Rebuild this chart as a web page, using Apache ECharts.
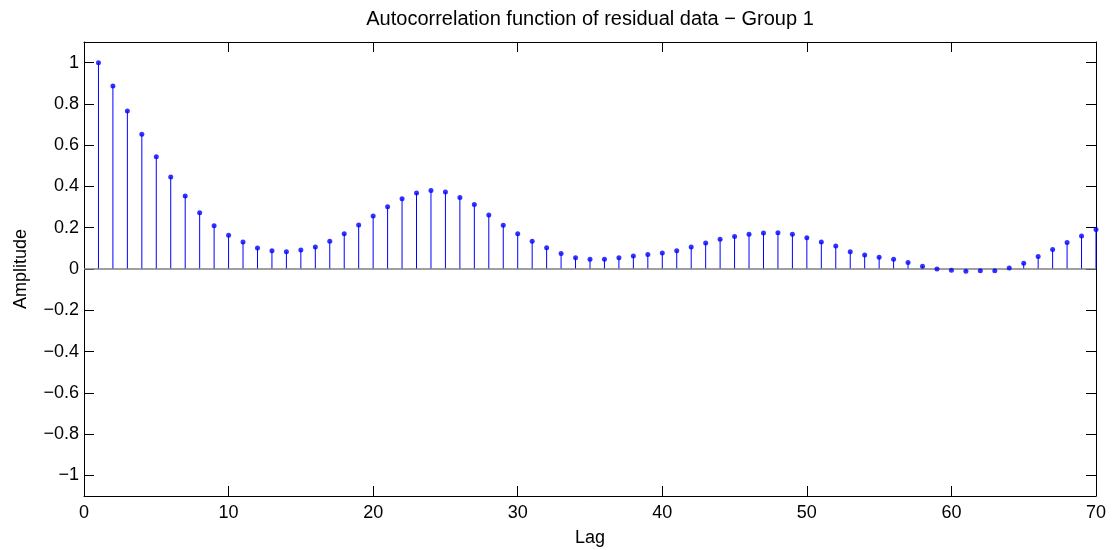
<!DOCTYPE html>
<html>
<head>
<meta charset="utf-8">
<script src="https://cdn.jsdelivr.net/npm/echarts@6/dist/echarts.min.js"></script>
<style>
html,body{margin:0;padding:0;background:#fff;}
#chart{width:1117px;height:550px;}
</style>
</head>
<body>
<div id="chart"></div>
<script>
const titleText = 'Autocorrelation function of residual data \u2212 Group 1';
const xName = 'Lag';
const yName = 'Amplitude';
const lags = [];
for (let i = 1; i <= 70; i++) lags.push(i);
const acf = [
  1.000, 0.887, 0.766, 0.653, 0.544, 0.446, 0.354, 0.273, 0.210, 0.163,
  0.131, 0.102, 0.089, 0.084, 0.092, 0.107, 0.134, 0.171, 0.213, 0.257,
  0.302, 0.341, 0.368, 0.380, 0.373, 0.347, 0.312, 0.262, 0.212, 0.171,
  0.134, 0.103, 0.075, 0.055, 0.047, 0.047, 0.055, 0.063, 0.070, 0.078,
  0.089, 0.107, 0.126, 0.144, 0.158, 0.168, 0.174, 0.176, 0.168, 0.152,
  0.131, 0.111, 0.083, 0.068, 0.057, 0.047, 0.032, 0.013, 0.000, -0.006,
  -0.011, -0.008, -0.008, 0.005, 0.028, 0.060, 0.094, 0.128, 0.160, 0.191
];
const yTickValues = [-1, -0.8, -0.6, -0.4, -0.2, 0, 0.2, 0.4, 0.6, 0.8, 1];
const xTickValues = [0, 10, 20, 30, 40, 50, 60, 70];

const FONT = '"Liberation Sans", Arial, Helvetica, sans-serif';
const points = lags.map((l, i) => [l, acf[i]]);

function fmtY(v) {
  const r = Math.round(v * 10) / 10;
  if (r === 0) return '0';
  const s = String(Math.abs(r));
  return r < 0 ? '\u2212' + s : s;
}

const chart = echarts.init(document.getElementById('chart'), null, {renderer: 'canvas'});
const axisLineStyle = {show: true, onZero: false, lineStyle: {color: '#000', width: 1}};
const tickStyle = {show: true, inside: true, length: 10, lineStyle: {color: '#000', width: 1}};
const labelStyle = {color: '#000', fontSize: 18, fontFamily: FONT};

chart.setOption({
  animation: false,
  backgroundColor: '#fff',
  graphic: [{
    type: 'text', x: 590, y: 19,
    style: {text: titleText, fill: '#000', font: '20px ' + FONT, textAlign: 'center', textVerticalAlign: 'middle', verticalAlign: 'middle'}
  }],
  grid: {left: 84, right: 21, top: 42, bottom: 54, containLabel: false, outerBoundsMode: 'none'},
  xAxis: [{
    type: 'value', min: 0, max: 70, interval: 10, position: 'bottom',
    axisLine: axisLineStyle, axisTick: tickStyle,
    axisLabel: Object.assign({margin: 8, customValues: xTickValues}, labelStyle),
    splitLine: {show: false},
    name: xName, nameLocation: 'middle', nameGap: 33,
    nameTextStyle: {color: '#000', fontSize: 18, fontFamily: FONT}
  }, {
    type: 'value', min: 0, max: 70, interval: 10, position: 'top',
    axisLine: axisLineStyle, axisTick: tickStyle,
    axisLabel: {show: false}, splitLine: {show: false}
  }],
  yAxis: [{
    type: 'value', min: -1.1, max: 1.1, position: 'left',
    axisLine: axisLineStyle,
    axisTick: Object.assign({customValues: yTickValues}, tickStyle),
    axisLabel: Object.assign({margin: 5, customValues: yTickValues, formatter: fmtY}, labelStyle),
    splitLine: {show: false},
    name: yName, nameLocation: 'middle', nameGap: 54, nameRotate: 90,
    nameTextStyle: {color: '#000', fontSize: 18, fontFamily: FONT}
  }, {
    type: 'value', min: -1.1, max: 1.1, position: 'right',
    axisLine: axisLineStyle,
    axisTick: Object.assign({customValues: yTickValues}, tickStyle),
    axisLabel: {show: false}, splitLine: {show: false}
  }],
  series: [{
    type: 'custom',
    xAxisIndex: 0, yAxisIndex: 0,
    data: points,
    z: 2,
    renderItem: function (params, api) {
      const x = api.value(0), y = api.value(1);
      const p0 = api.coord([x, 0]);
      const p1 = api.coord([x, y]);
      return {type: 'line', shape: {x1: p0[0], y1: p0[1], x2: p1[0], y2: p1[1]},
        style: {stroke: '#0000ff', lineWidth: 1}};
    },
    clip: false, silent: true
  }, {
    type: 'line',
    xAxisIndex: 0, yAxisIndex: 0,
    data: [[0, 0], [70, 0]],
    symbol: 'none', z: 3, silent: true,
    lineStyle: {color: '#7f7f7f', width: 1.5}
  }, {
    type: 'scatter',
    xAxisIndex: 0, yAxisIndex: 0,
    data: points,
    symbol: 'circle', symbolSize: 5, z: 4, clip: false, silent: true,
    itemStyle: {color: '#0000ff'}
  }]
});
</script>
</body>
</html>
